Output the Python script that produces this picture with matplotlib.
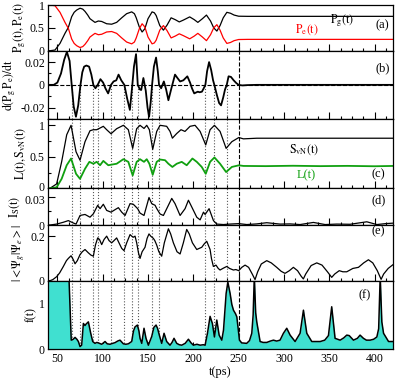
import numpy as np
import matplotlib
matplotlib.use('Agg')
import matplotlib.pyplot as plt
import matplotlib.transforms as mtransforms
from matplotlib.ticker import MultipleLocator, FuncFormatter

plt.rcParams['font.family'] = 'Liberation Serif'
plt.rcParams['mathtext.fontset'] = 'stix'
plt.rcParams['font.size'] = 9

# ---- (a) populations
t_p = [40, 41.9, 47.4, 52.9, 58.4, 62.1, 65.8, 68.5, 71.3, 75.0, 78.0, 80.5, 83.5, 86.0, 91.5,
       95.2, 98.9, 104.4, 109.9, 115.4, 121.0, 126.4, 132.0, 135.0, 137.0, 140.4, 143.5, 146.5,
       150.0, 154.5, 157.0, 159.0, 163.0, 167.0, 171.0, 175.5, 180.0, 184.5, 189.0, 196.0, 201.0,
       205.0, 210.0, 214.5, 219.0, 222.5, 226.0, 229.5, 233.0, 237.0, 241.0, 245.0, 250.0, 260.0,
       420.0]
pg = [0, 0, 0.015, 0.16, 0.38, 0.51, 0.745, 0.84, 0.89, 0.93, 0.91, 0.86, 0.78, 0.70, 0.62,
      0.65, 0.64, 0.59, 0.58, 0.62, 0.72, 0.81, 0.85, 0.81, 0.72, 0.52, 0.41, 0.48,
      0.70, 0.85, 0.83, 0.77, 0.55, 0.45, 0.56, 0.72, 0.68, 0.63, 0.67, 0.74, 0.68,
      0.62, 0.70, 0.78, 0.65, 0.50, 0.43, 0.55, 0.72, 0.84, 0.82, 0.78, 0.755, 0.752,
      0.752]
pe = [1, 1, 0.985, 0.84, 0.62, 0.49, 0.255, 0.16, 0.11, 0.07, 0.09, 0.14, 0.22, 0.30, 0.38,
      0.35, 0.36, 0.41, 0.42, 0.38, 0.28, 0.19, 0.15, 0.19, 0.28, 0.48, 0.59, 0.52,
      0.30, 0.15, 0.17, 0.23, 0.45, 0.55, 0.44, 0.28, 0.32, 0.37, 0.33, 0.26, 0.32,
      0.38, 0.30, 0.22, 0.35, 0.50, 0.57, 0.45, 0.28, 0.16, 0.18, 0.22, 0.245, 0.248,
      0.248]

# ---- (b) d(PgPe)/dt
t_d = [40, 46, 50, 54, 57.5, 60.5, 63.5, 65.8, 68, 70.5, 73, 75.5, 77.5, 79.5, 82, 85, 87.5, 89.7,
       92, 94.5, 97.5, 100.5, 103, 106, 109.2, 112, 115, 117.5, 120.5, 123.9, 127, 130, 132.7,
       134.5, 136.8, 138.7, 141, 142.5, 144.9, 147.5, 149.5, 151.2, 153, 154.5, 156.5, 158.9,
       160.8, 162.2, 164.5, 167.5, 170, 172.5, 175.5, 179.8, 182.5, 185.4, 189, 193.4, 196.4,
       198.5, 201, 204.9, 207, 209.5, 211.5, 213.3, 215.2, 217.4, 219.7, 221.8, 223.2, 226,
       228.5, 230.6, 233, 235, 236.9, 238.9, 241.5, 244.5, 247.5, 250, 254, 260, 270, 420]
dpp = [0, 0, 0.002, 0.010, 0.022, 0.029, 0.021, 0, -0.019, -0.028, -0.018, 0, 0.011, 0.016, 0.017,
       0.016, 0.009, 0, -0.003, 0, 0.005, 0.002, -0.003, -0.0075, 0, 0.003, 0.004, 0.009, 0.004,
       0, -0.012, -0.022, 0, 0.016, 0.027, 0, -0.004, -0.0045, 0.006, -0.005, -0.020, -0.028,
       -0.015, 0, 0.016, 0.024, 0.012, 0, -0.003, 0.003, -0.004, -0.0135, -0.004, 0.009, 0.006,
       0.003, 0.004, 0.0075, 0.002, -0.003, -0.0075, -0.006, -0.0065, -0.006, -0.003, 0, 0.012,
       0.020, 0.013, 0.004, 0, -0.009, -0.016, -0.018, -0.011, -0.004, 0, 0.0075, 0.007, 0.004,
       0.0015, 0, -0.0005, -0.0002, 0, 0]

# ---- (c) entropies
t_s = [40, 41.9, 49.2, 54.7, 60.3, 65.1, 70.6, 75.0, 80.5, 86.0, 89.7, 93.4, 97.1, 100.7, 104.4,
       109.2, 115.4, 122.8, 128.3, 133.1, 137.5, 141.2, 145.6, 148.6, 151.5, 155.2, 159.6, 163.3,
       170.6, 174.3, 176.9, 181.7, 186.4, 190.8, 196.4, 201.9, 207.5, 213.7, 218.5, 223.3, 229.5,
       236.2, 242.5, 250.2, 255.3, 270, 420]
svn = [0, 0, 0.07, 0.42, 0.85, 1.0, 0.58, 0.446, 0.74, 0.914, 0.93, 0.93, 0.957, 0.984, 0.93,
       0.866, 0.946, 1.0, 0.93, 0.634, 0.946, 1.0, 0.95, 1.0, 0.93, 0.618, 0.903, 1.0,
       0.984, 0.903, 0.796, 0.87, 0.93, 0.903, 0.984, 1.0, 0.903, 0.688, 0.93, 1.0, 0.903,
       0.634, 0.74, 0.806, 0.785, 0.795, 0.795]
t_l = [40, 41.9, 49.2, 54.7, 60.3, 65.1, 70.6, 75.0, 80.5, 85.3, 89.7, 93.4, 97.1, 100.7, 106.2,
       109.9, 115.4, 122.8, 128.3, 133.1, 137.5, 141.2, 145.6, 148.6, 151.5, 155.2, 159.6, 163.3,
       168.8, 172.5, 176.9, 181.7, 187.2, 192.7, 199.0, 203.8, 209.3, 213.7, 218.5, 223.3, 229.5,
       236.2, 242.5, 250.2, 255.3, 280, 310, 340, 370, 400, 420]
lin = [0, 0, 0.016, 0.15, 0.366, 0.473, 0.23, 0.15, 0.31, 0.42, 0.39, 0.42, 0.366, 0.435, 0.366,
       0.376, 0.39, 0.462, 0.42, 0.204, 0.42, 0.462, 0.42, 0.462, 0.39, 0.215, 0.42, 0.457,
       0.446, 0.39, 0.339, 0.39, 0.42, 0.366, 0.473, 0.42, 0.339, 0.23, 0.42, 0.49, 0.39,
       0.258, 0.339, 0.365, 0.355, 0.352, 0.358, 0.352, 0.356, 0.35, 0.355]

# ---- (d) I_S
t_i = [40, 41.9, 49.2, 56.6, 62.1, 67.6, 70.6, 75.0, 80.5, 86.0, 89.7, 94.5, 97.1, 100.7, 104.4,
       109.2, 113.6, 117.3, 121.0, 124.7, 130.2, 133.8, 138.6, 141.2, 145.6, 151.1, 154.1, 157.8,
       159.6, 163.3, 167.0, 172.5, 176.2, 179.8, 185.4, 190.9, 194.6, 198.3, 203.8, 207.5, 211.2,
       213.0, 217.4, 222.2, 225.9, 233.2, 240, 250.2, 259, 270, 281, 295.7, 306.8, 317.8, 332.5,
       345.4, 358.3, 373, 391.4, 402.5, 412, 420]
i_s = [0, 0, 0.001, 0.003, 0.0048, 0.0022, 0.001, 0.0104, 0.0115, 0.0085, 0.0122, 0.0215, 0.0178,
       0.0226, 0.0159, 0.014, 0.0167, 0.0189, 0.014, 0.0104, 0.0233, 0.0226, 0.0178, 0.013, 0.0104,
       0.030, 0.0233, 0.0215, 0.018, 0.012, 0.0104, 0.0215, 0.029, 0.0233, 0.0104, 0.0178, 0.027,
       0.0196, 0.0085, 0.0056, 0.014, 0.0115, 0.0178, 0.0048, 0.001, 0.0005, 0.001, 0.0015,
       0.0005, 0.0012, 0.0025, 0.001, 0.0012, 0.0005, 0.0028, 0.0005, 0.001, 0.0008, 0.0035,
       0.0005, 0.0015, 0.002]

# ---- (e) overlap |<psi_g|psi_e>|
t_o = [40, 41.9, 45, 49.2, 52.5, 56.6, 60, 62.1, 65.1, 67.5, 69.5, 72, 75.0, 77.5, 80.5, 84.2, 87,
       89.7, 92, 94.5, 96.5, 98.9, 101.5, 104.4, 107, 109.9, 112.5, 115.4, 118, 121, 123.5, 126.5,
       130.2, 132, 133.8, 135.7, 137.5, 139.5, 141.2, 143.5, 146.7, 149, 151.1, 153, 155.9, 157.5,
       159.6, 162, 165.1, 168, 172.5, 175, 178, 182, 185.4, 189, 192.7, 195.5, 199, 203.8, 206.5,
       209.3, 212, 214.8, 216.5, 218.5, 220, 222.1, 225, 227.5, 229.5, 233, 236.9, 240, 244.2, 247,
       250.1, 253.5, 257.1, 261, 265, 268.1, 271, 275, 281.0, 286, 292.0, 297, 301.2, 306, 310.4,
       315, 319, 321.4, 324, 330, 336.2, 342, 348, 352.7, 356, 361, 365, 369.3, 376, 382.2, 388,
       393.2, 398, 403, 407.2, 410, 415, 420]
ovl = [0, 0, 0.005, 0.018, 0.035, 0.064, 0.09, 0.10, 0.112, 0.095, 0.076, 0.09, 0.117, 0.13, 0.14,
       0.125, 0.115, 0.11, 0.16, 0.192, 0.185, 0.162, 0.185, 0.20, 0.18, 0.17, 0.18, 0.192, 0.17,
       0.145, 0.135, 0.17, 0.207, 0.2, 0.195, 0.2, 0.17, 0.125, 0.10, 0.13, 0.15, 0.19, 0.21, 0.2,
       0.19, 0.18, 0.16, 0.13, 0.11, 0.17, 0.233, 0.21, 0.17, 0.13, 0.12, 0.17, 0.23, 0.21, 0.17,
       0.14, 0.145, 0.15, 0.165, 0.177, 0.16, 0.14, 0.10, 0.064, 0.07, 0.055, 0.048, 0.056, 0.064,
       0.055, 0.048, 0.05, 0.045, 0.06, 0.07, 0.06, 0.03, 0.005, 0.04, 0.075, 0.09, 0.08, 0.06,
       0.042, 0.033, 0.045, 0.06, 0.045, 0.02, 0.008, 0.03, 0.068, 0.08, 0.07, 0.04, 0.015, 0.03,
       0.045, 0.04, 0.04, 0.055, 0.06, 0.08, 0.094, 0.08, 0.045, 0.006, 0.03, 0.055, 0.071]

# ---- (f) f(t)
t_f = [40, 62.0, 65.3, 67.5, 69.5, 71.5, 73.2, 75.0, 76.8, 78.7, 80.5, 81.6, 84.2, 86.8, 89.0, 91.5,
       93.5, 95.2, 98.9, 100.8, 102.6, 105, 108.1, 111, 113.6, 116.5, 119.1, 122.8, 125.5, 128.3,
       132.0, 134, 135.7, 138.3, 140, 141.2, 143.1, 145.6, 147.8, 150.4, 154.1, 156.5, 158.9,
       160.5, 162.5, 165.1, 167.7, 170.6, 174.3, 176.5, 178.7, 181.7, 184.5, 187.2, 191, 194.6,
       197.5, 200.1, 204, 207.5, 211, 213.0, 215.6, 218.5, 221.1, 223.3, 225.9, 228.5, 231.4,
       233.3, 236.2, 238.1, 240.6, 242.5, 244.3, 246.5, 248.0, 249.5, 250.9, 253.4, 258.9, 262,
       264.5, 266.0, 267.3, 268.8, 270.0, 273.7, 277, 281.0, 285, 288.4, 292, 295.7, 299.4, 303.1,
       306.8, 312.3, 317.8, 321.5, 325.2, 330.7, 336, 340, 345, 349.1, 352.7, 356.4, 362.0, 366,
       369.3, 372, 376.7, 381, 384.0, 387.7, 391, 395.1, 399, 402.5, 404.5, 406.2, 408, 409.9,
       415.4, 420]
f_t = [2.0, 2.0, 0.2, 0.22, 0.26, 0.22, 0.17, 0.06, 0.09, 0.565, 0.52, 0.55, 0.6, 0.35, 0.17, 0.13,
       0.15, 0.14, 0.11, 0.14, 0.17, 0.12, 0.11, 0.13, 0.145, 0.18, 0.2, 0.12, 0.11, 0.12,
       0.17, 0.4, 0.49, 0.53, 0.40, 0.24, 0.13, 0.46, 0.24, 0.09, 0.28, 0.48, 0.53,
       0.46, 0.31, 0.13, 0.35, 0.17, 0.09, 0.15, 0.24, 0.13, 0.10, 0.09, 0.13, 0.22,
       0.14, 0.09, 0.11, 0.09, 0.10, 0.09, 0.35, 0.72, 0.56, 0.27, 0.64, 0.31, 0.20,
       0.42, 1.22, 1.47, 1.22, 0.98, 0.855, 0.78, 0.71, 0.45, 0.2, 0.14, 0.13, 0.19,
       0.35, 0.75, 1.6, 0.8, 0.6, 0.17, 0.15, 0.15, 0.18, 0.2, 0.18, 0.2, 0.35, 0.46,
       0.31, 0.17, 0.35, 0.855, 0.35, 0.17, 0.17, 0.17, 0.2, 0.3, 0.93, 0.24, 0.2, 0.25,
       0.31, 0.3, 0.2, 0.24, 0.31, 0.24, 0.2, 0.2, 0.22, 0.27, 0.45, 1.6, 0.6, 0.35,
       0.17, 0.17]

# dotted markers
t_marks = [65.8, 75.5, 89.7, 94.5, 109.2, 123.9, 132.7, 138.7, 154.5, 162.2, 213.3, 223.2, 236.9]
t_cut = 250

fig = plt.figure(figsize=(3.95, 3.8), dpi=100)
gs = fig.add_gridspec(6, 1, height_ratios=[45.7, 68.3, 69.3, 36.7, 55.7, 68.6], hspace=0,
                      left=0.1223, right=0.9942, top=0.9868, bottom=0.0808)
axs = [fig.add_subplot(gs[i]) for i in range(6)]

fmt = FuncFormatter(lambda v, p: '%g' % v)
ylims = [(0, 1), (-0.03, 0.03), (0, 1.1), (0, 0.04), (0, 0.25), (0, 1.5)]
ymaj = [0.5, 0.02, 0.5, 0.03, 0.2, 1]
ymin = [0.25, 0.01, 0.25, 0.015, 0.1, 0.5]
for ax, yl, ma, mi in zip(axs, ylims, ymaj, ymin):
    ax.set_xlim(40, 420)
    ax.set_ylim(*yl)
    ax.xaxis.set_major_locator(MultipleLocator(50))
    ax.xaxis.set_minor_locator(MultipleLocator(12.5))
    ax.yaxis.set_major_locator(MultipleLocator(ma))
    ax.yaxis.set_minor_locator(MultipleLocator(mi))
    ax.yaxis.set_major_formatter(fmt)
    ax.tick_params(which='both', direction='in', top=False, right=False, labelsize=8.5, pad=2.5)
    ax.tick_params(which='major', length=5, width=0.8)
    ax.tick_params(which='minor', length=2.5, width=0.8)
    for s in ax.spines.values():
        s.set_linewidth(0.9)
    if ax is not axs[-1]:
        ax.tick_params(labelbottom=False)

lab = dict(fontsize=8.5, labelpad=1.5)

ax = axs[0]
ax.plot(t_p, pg, color='black', lw=0.9)
ax.plot(t_p, pe, color='red', lw=0.9)
ax.vlines(t_cut, 0, 0.18, colors='black', linestyles='--', lw=0.8)
ax.text(364, 0.66, r'$\mathrm{P_g(t)}$', ha='center', va='center', fontsize=8.5)
ax.text(325, 0.47, r'$\mathrm{P_e(t)}$', ha='center', va='center', fontsize=8.5, color='red')
ax.text(408, 0.55, '(a)', ha='center', va='center', fontsize=9)
ax.set_ylabel(r'$\mathrm{P_g(t),P_e(t)}$', **lab)

ax = axs[1]
ax.axhline(0, color='black', ls='--', lw=0.8)
ax.vlines(t_marks, -0.03, 0, colors='0.35', linestyles=':', lw=0.8)
ax.axvline(t_cut, color='black', ls='--', lw=0.8)
ax.plot(t_d, dpp, color='black', lw=1.3)
ax.text(409, 0.015, '(b)', ha='center', va='center', fontsize=9)
ax.set_ylabel(r'$\mathrm{d(P_g\,P_e)/dt}$', **lab)

ax = axs[2]
ax.vlines(t_marks, 0, 1.1, colors='0.35', linestyles=':', lw=0.8)
ax.axvline(t_cut, color='black', ls='--', lw=0.8)
ax.plot(t_s, svn, color='black', lw=0.9)
ax.plot(t_l, lin, color='#10a010', lw=1.3)
ax.text(322, 0.62, r'$\mathrm{S_{vN}(t)}$', ha='center', va='center', fontsize=8.5)
ax.text(325, 0.2, 'L(t)', ha='center', va='center', fontsize=9, color='#10a010')
ax.text(404, 0.22, '(c)', ha='center', va='center', fontsize=9)
ax.set_ylabel(r'$\mathrm{L(t),S_{vN}(t)}$', **lab)

ax = axs[3]
ax.vlines(t_marks, 0, 0.04, colors='0.35', linestyles=':', lw=0.8)
ax.axvline(t_cut, color='black', ls='--', lw=0.8)
ax.plot(t_i, i_s, color='black', lw=0.9)
ax.text(404, 0.027, '(d)', ha='center', va='center', fontsize=9)
ax.set_ylabel(r'$\mathrm{I_S(t)}$', **lab)

ax = axs[4]
ax.vlines(t_marks, 0, 0.25, colors='0.35', linestyles=':', lw=0.8)
ax.axvline(t_cut, color='black', ls='--', lw=0.8)
ax.plot(t_o, ovl, color='black', lw=0.9)
ax.text(404, 0.223, '(e)', ha='center', va='center', fontsize=9)
ax.set_ylabel(r'$|<\Psi_g|\Psi_e>|$', **lab)

ax = axs[5]
ax.vlines(t_marks, 0, 1.5, colors='0.35', linestyles=':', lw=0.8, zorder=1)
ax.axvline(t_cut, color='black', ls='--', lw=0.8, zorder=1)
ax.fill_between(t_f, 0, f_t, color='#40e0d0', lw=0, zorder=2)
ax.plot(t_f, f_t, color='black', lw=1.1, zorder=3)
ax.text(389, 1.18, '(f)', ha='center', va='center', fontsize=9)
ax.set_ylabel('f(t)', **lab)
ax.set_xlabel('t(ps)', fontsize=9, labelpad=1)

# nudge the crowded tick labels at the c/d boundary apart a little
fig.canvas.draw()
up = mtransforms.ScaledTranslation(0, 1.5 / 72, fig.dpi_scale_trans)
down = mtransforms.ScaledTranslation(0, -1.5 / 72, fig.dpi_scale_trans)
for lbl in axs[2].get_yticklabels():
    if lbl.get_text() == '0':
        lbl.set_transform(lbl.get_transform() + up)
for lbl in axs[3].get_yticklabels():
    if lbl.get_text() == '0.03':
        lbl.set_transform(lbl.get_transform() + down)

fig.savefig('out.png', dpi=100)
